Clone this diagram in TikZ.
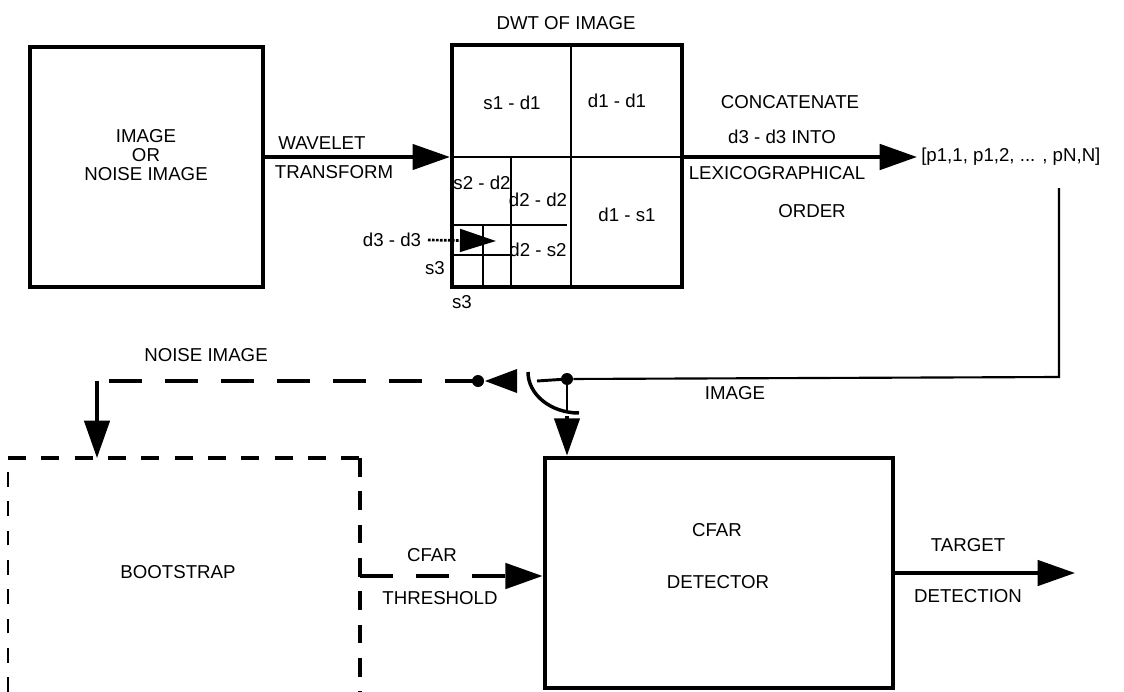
\documentclass[tikz,border=0pt]{standalone}
\usepackage{fontspec}
\setmainfont{Liberation Sans}
\usetikzlibrary{arrows.meta}
\begin{document}
\begin{tikzpicture}[x=0.75pt,y=-0.75pt,
  lbl/.style={font=\fontsize{14}{16}\selectfont, inner sep=0pt},
  box/.style={draw, line width=3.6pt, inner sep=0pt},
  grid/.style={line width=2.2pt},
  conn/.style={line width=2.6pt},
  thin/.style={line width=1.6pt},
  tri/.style={-{Triangle[length=28pt,width=19pt]}},
  longdash/.style={line width=3.4pt, dash pattern=on 25pt off 17pt},
  boxdash/.style={line width=3pt, dash pattern=on 13.5pt off 11.5pt},
  thindash/.style={line width=1.6pt, dash pattern=on 11pt off 11pt},
  dot/.style={circle, fill, inner sep=0pt, minimum size=9pt}
]
\useasboundingbox (0,0) rectangle (1124,692);

% ---------- boxes ----------
\node[box, minimum width=174.75pt, minimum height=180pt] (img) at (146.5,167) {};
\node[lbl, align=center] (imgtxt) at (146,155) {IMAGE\\[-1.5pt]OR\\[-1.5pt]NOISE IMAGE};

\node[box, line width=3.2pt, minimum width=172.5pt, minimum height=181.5pt] (dwt) at (567,166) {};
\node[box, minimum width=261pt, minimum height=172.5pt] (cfar) at (719,573) {};

% DWT grid
\coordinate (c) at (571,157);
\draw[grid] (571,45) -- (571,287);
\draw[grid] (452,157) -- (682,157);
\draw[grid] (511,157) -- (511,287);
\draw[grid] (452,225) -- (567,225);
\draw[grid] (483,225) -- (483,287);
\draw[grid] (452,255) -- (512,255);

% Bootstrap dashed box
\coordinate (btl) at (8,458);
\coordinate (btr) at (360,458);
\coordinate (bbl) at (8,692);
\coordinate (bbr) at (360,692);
\draw[thindash] (bbl) -- (btl);
\draw[boxdash] (btl) -- (btr);
\draw[line width=3.6pt, dash pattern=on 14pt off 11pt] (btr) -- (bbr);

% ---------- texts ----------
\node[lbl] (dwtt) at (566,23) {DWT OF IMAGE};
\node[lbl] (s1d1) at (512,103) {s1 - d1};
\node[lbl] (d1d1) at (617,101) {d1 - d1};
\node[lbl] (s2d2) at (482,183) {s2 - d2};
\node[lbl] (d2d2) at (538,200) {d2 - d2};
\node[lbl] (d2s2) at (538,250) {d2 - s2};
\node[lbl] (d1s1) at (627,215) {d1 - s1};
\node[lbl] (d3d3) at (392,240) {d3 - d3};
\node[lbl] (s3a) at (435,268) {s3};
\node[lbl] (s3b) at (462,302) {s3};

\node[lbl] (wav) at (322,143) {WAVELET};
\node[lbl] (tra) at (334,172) {TRANSFORM};

\node[lbl] (conc) at (790,102) {CONCATENATE};
\node[lbl] (into) at (782,137) {d3 - d3 INTO};
\node[lbl] (lexi) at (777,173) {LEXICOGRAPHICAL};
\node[lbl] (ord) at (812,211) {ORDER};
\node[lbl, anchor=west] (vec) at (921,157) {[p1,1, p1,2, ... , pN,N]};

\node[lbl] (noisel) at (206,355) {NOISE IMAGE};
\node[lbl] (imagel) at (735,393) {IMAGE};

\node[lbl] (boot) at (178,572) {BOOTSTRAP};
\node[lbl] (cfart) at (717,530) {CFAR};
\node[lbl] (dett) at (718,582) {DETECTOR};
\node[lbl] (cfarl) at (432,555) {CFAR};
\node[lbl] (thrl) at (440,598) {THRESHOLD};
\node[lbl] (targ) at (968,545) {TARGET};
\node[lbl] (detl) at (968,596) {DETECTION};

% ---------- connectors ----------
% wavelet transform
\draw[conn, tri] (img.east |- c) -- (dwt.west |- c);
% concatenate
\coordinate (vtip) at (917,157);
\draw[conn, line width=3pt, tri] (dwt.east |- c) -- (vtip);
% small d3 arrow
\coordinate (d3tip) at (496,241);
\draw[line width=2pt, densely dotted, -{Triangle[length=27pt,width=17pt]}] (d3d3.east) ++(5pt,0) -- (d3tip);

% return line and switch
\coordinate (vend) at (1059,188);
\coordinate (rc) at (1059,377);
\node[dot] (sw) at (567,379) {};
\draw[thin] (vend) -- (rc) -- (sw);
\draw[grid] (537,381) -- (sw.center);
\draw[grid] (sw.center) -- (567,410);
\draw[line width=2.6pt] (528,372) arc[start angle=180, end angle=90, x radius=51, y radius=41];

% to CFAR detector
\coordinate (swout) at (567,416);
\draw[conn, tri] (swout) -- (cfar.north west -| swout);

% noise image path
\node[dot] (ndot) at (478,381) {};
\coordinate (ntip) at (485,381);
\coordinate (nbase) at (517,381);
\fill (ntip) -- (nbase |- 0,369) -- (nbase |- 0,393) -- cycle;
\coordinate (ncorner) at (97,381);
\coordinate (btop) at (97,458);
\draw[longdash] (ndot.center) -- (ncorner);
\draw[longdash, line width=3pt] (ncorner) -- (97,417);
\draw[conn, tri] (97,410) -- (btop);

% CFAR threshold
\coordinate (thr) at (360,576);
\draw[longdash, line width=3pt, tri] (thr) -- (cfar.west |- thr);

% target detection
\coordinate (ttip) at (1075,573);
\draw[conn, tri] (cfar.east) -- (ttip);
\end{tikzpicture}
\end{document}
